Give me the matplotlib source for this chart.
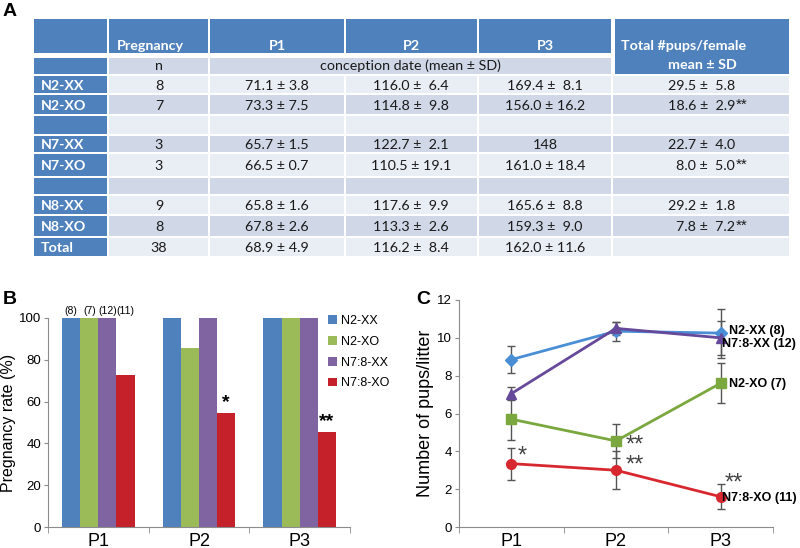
import numpy as np
import matplotlib
matplotlib.use('Agg')
import matplotlib.pyplot as plt
from matplotlib.patches import Rectangle

# --- datos de la tabla (A) ---
row_labels = ['N2-XX', 'N2-XO', '', 'N7-XX', 'N7-XO', '', 'N8-XX', 'N8-XO', 'Total']
n_females = ['8', '7', '', '3', '3', '', '9', '8', '38']
p1_date = ['71.1 ± 3.8', '73.3 ± 7.5', '', '65.7 ± 1.5', '66.5 ± 0.7', '',
           '65.8 ± 1.6', '67.8 ± 2.6', '68.9 ± 4.9']
p2_date = ['116.0 ±  6.4', '114.8 ±  9.8', '', '122.7 ±  2.1', '110.5 ± 19.1', '',
           '117.6 ±  9.9', '113.3 ±  2.6', '116.2 ±  8.4']
p3_date = ['169.4 ±  8.1', '156.0 ± 16.2', '', '148', '161.0 ± 18.4', '',
           '165.6 ±  8.8', '159.3 ±  9.0', '162.0 ± 11.6']
total_pups = ['29.5 ±  5.8', '18.6 ±  2.9', '', '22.7 ±  4.0', '8.0 ±  5.0', '',
              '29.2 ±  1.8', '7.8 ±  7.2', '']
total_sig = ['', '**', '', '', '**', '', '', '**', '']

# --- datos panel B ---
pregnancies = ['P1', 'P2', 'P3']
groups = ['N2-XX', 'N2-XO', 'N7:8-XX', 'N7:8-XO']
group_n = ['(8)', '(7)', '(12)', '(11)']
rate = {
    'N2-XX': [100, 100, 100],
    'N2-XO': [100, 85.7, 100],
    'N7:8-XX': [100, 100, 100],
    'N7:8-XO': [72.7, 54.5, 45.5],
}
rate_sig = ['', '*', '**']

# --- datos panel C ---
pups_mean = {
    'N2-XX': [8.85, 10.35, 10.25],
    'N7:8-XX': [7.05, 10.5, 10.0],
    'N2-XO': [5.7, 4.55, 7.6],
    'N7:8-XO': [3.35, 3.0, 1.6],
}
pups_err = {
    'N2-XX': [0.72, 0.5, 1.3],
    'N7:8-XX': [0.35, 0.35, 0.9],
    'N2-XO': [1.1, 0.9, 1.05],
    'N7:8-XO': [0.85, 1.0, 0.65],
}
line_labels = {'N2-XX': 'N2-XX (8)', 'N7:8-XX': 'N7:8-XX (12)',
               'N2-XO': 'N2-XO (7)', 'N7:8-XO': 'N7:8-XO (11)'}
label_y = {'N2-XX': 10.35, 'N7:8-XX': 9.65, 'N2-XO': 7.56, 'N7:8-XO': 1.55}
label_dx = {'N2-XX': 0.08, 'N7:8-XX': 0.01, 'N2-XO': 0.08, 'N7:8-XO': 0.01}

bar_colors = {'N2-XX': '#4F81BD', 'N2-XO': '#9BBB59',
              'N7:8-XX': '#8064A2', 'N7:8-XO': '#C4212A'}
line_colors = {'N2-XX': '#4A8FD6', 'N7:8-XX': '#66499A',
               'N2-XO': '#7BA83E', 'N7:8-XO': '#D7282F'}
markers = {'N2-XX': 'D', 'N7:8-XX': '^', 'N2-XO': 's', 'N7:8-XO': 'o'}

fig = plt.figure(figsize=(8, 5.48), dpi=100)

# ---------------- Tabla A (coordenadas en pixeles) ----------------
tab = fig.add_axes([0, 0, 1, 1])
tab.set_xlim(0, 800)
tab.set_ylim(548, 0)
tab.axis('off')

BLUE = '#4F81BD'
LIGHT = '#E9EDF4'
DARK = '#D0D8E8'
TXT = '#1a1a1a'
tfont = 'Lato'
FS = 10.3

col_x = [33, 108, 209, 345, 478, 612, 790]
row_y = [74, 94, 115, 135, 153, 177, 195, 215, 237, 257]

def cell(x0, y0, x1, y1, color):
    tab.add_patch(Rectangle((x0 + 1, y0 + 1), x1 - x0 - 2, y1 - y0 - 2,
                            facecolor=color, edgecolor='none'))

# encabezado
for i in range(5):
    cell(col_x[i], 18, col_x[i + 1], 54, BLUE)
cell(col_x[5] + 2, 18, col_x[6], 75, BLUE)
hdr = ['', 'Pregnancy', 'P1', 'P2', 'P3']
hdr_x = [0, 150, 277, 411, 545]
for i in range(1, 5):
    tab.text(hdr_x[i], 46, hdr[i], color='white', fontweight='bold',
             fontsize=FS, family=tfont, ha='center', va='center')
tab.text(684, 46, 'Total #pups/female', color='white', fontweight='bold',
         fontsize=FS, family=tfont, ha='center', va='center')
tab.text(702, 65, 'mean ± SD', color='white', fontweight='bold',
         fontsize=FS, family=tfont, ha='center', va='center')

# fila n / fecha de concepcion
cell(col_x[0], 57, col_x[1], 75, BLUE)
cell(col_x[1], 57, col_x[2], 75, DARK)
cell(col_x[2], 57, col_x[5], 75, DARK)
tab.text(159, 66, 'n', color=TXT, fontsize=FS, family=tfont, ha='center', va='center')
tab.text(410, 66, 'conception date (mean ± SD)', color=TXT, fontsize=FS,
         family=tfont, ha='center', va='center')

for r, lab in enumerate(row_labels):
    y0, y1 = row_y[r], row_y[r + 1]
    if r == 0:
        y0 = 75
    color = LIGHT if r % 2 == 0 else DARK
    cell(col_x[0], y0, col_x[1], y1, BLUE)
    for c in range(1, 6):
        cell(col_x[c], y0, col_x[c + 1], y1, color)
    yc = (y0 + y1) / 2 + 1
    tab.text(41, yc, lab, color='white', fontweight='bold', fontsize=FS,
             family=tfont, ha='left', va='center')
    tab.text(159, yc, n_females[r], color=TXT, fontsize=FS, family=tfont,
             ha='center', va='center')
    tab.text(277, yc, p1_date[r], color=TXT, fontsize=FS, family=tfont,
             ha='center', va='center')
    tab.text(411, yc, p2_date[r], color=TXT, fontsize=FS, family=tfont,
             ha='center', va='center')
    tab.text(545, yc, p3_date[r], color=TXT, fontsize=FS, family=tfont,
             ha='center', va='center')
    tab.text(735, yc, total_pups[r], color=TXT, fontsize=FS, family=tfont,
             ha='right', va='center')
    if total_sig[r]:
        tab.text(736, yc - 1, total_sig[r], color=TXT, fontsize=11,
                 family='Liberation Sans', ha='left', va='center')

# letras de panel
tab.text(3, 12, 'A', fontsize=14, fontweight='bold', family='Liberation Sans', va='center')
tab.text(3, 299, 'B', fontsize=14, fontweight='bold', family='Liberation Sans', va='center')
tab.text(416, 299, 'C', fontsize=14, fontweight='bold', family='Liberation Sans', va='center')

plt.rcParams['font.family'] = 'Liberation Sans'
GREY = '#8c8c8c'

# ---------------- Panel B ----------------
axB = fig.add_axes([48 / 800, 1 - 527 / 548, 302 / 800, 209 / 548])
x = np.arange(len(pregnancies))
w = 0.18
handles = []
for i, g in enumerate(groups):
    b = axB.bar(x + (i - 1.5) * w, rate[g], width=w, color=bar_colors[g], label=g)
    handles.append(b)
    axB.text(x[0] + (i - 1.5) * w, 101, group_n[i], ha='center',
             va='bottom', fontsize=7.5)
for k in range(len(pregnancies)):
    if rate_sig[k]:
        axB.text(x[k] + 1.5 * w, rate['N7:8-XO'][k] + 1, rate_sig[k],
                 ha='center', va='bottom', fontsize=14, fontweight='bold')
axB.set_xlim(-0.5, 2.5)
axB.set_ylim(0, 100)
axB.set_yticks(np.arange(0, 101, 20))
axB.set_xticks(x)
axB.set_xticklabels(pregnancies, fontsize=13)
axB.set_xticks([-0.5, 0.5, 1.5, 2.5], minor=True)
axB.tick_params(axis='x', which='major', length=0, pad=4)
axB.tick_params(axis='x', which='minor', length=4, color=GREY)
axB.tick_params(axis='y', labelsize=9.5, length=3, pad=2, color=GREY)
axB.set_ylabel('Pregnancy rate (%)', fontsize=11.5, labelpad=2)
for s in ['top', 'right']:
    axB.spines[s].set_visible(False)
for s in ['left', 'bottom']:
    axB.spines[s].set_color(GREY)
fig.legend(handles=handles, loc='upper left', bbox_to_anchor=(328 / 800, 1 - 315 / 548),
           frameon=False, fontsize=9, handlelength=0.7, handleheight=0.7,
           handletextpad=0.35, labelspacing=0.7, borderpad=0, borderaxespad=0)

# ---------------- Panel C ----------------
axC = fig.add_axes([459 / 800, 1 - 527 / 548, 314 / 800, 227 / 548])
for g in ['N2-XO', 'N7:8-XO', 'N2-XX', 'N7:8-XX']:
    axC.plot(x, pups_mean[g], color=line_colors[g], lw=2, marker=markers[g],
             markersize=7 if markers[g] != 'D' else 6, zorder=3)
    axC.errorbar(x, pups_mean[g], yerr=pups_err[g], fmt='none', ecolor='#555555',
                 elinewidth=1, capsize=3, capthick=1, zorder=2)
    axC.text(2 + label_dx[g], label_y[g], line_labels[g], fontsize=9, fontweight='bold',
             ha='left', va='center', clip_on=False)
star_col = '#444444'
axC.text(0.1, 3.75, '*', color=star_col, fontsize=17, ha='center', va='center')
axC.text(1.18, 4.3, '**', color=star_col, fontsize=17, ha='center', va='center')
axC.text(1.18, 3.25, '**', color=star_col, fontsize=17, ha='center', va='center')
axC.text(2.13, 2.3, '**', color=star_col, fontsize=17, ha='center', va='center')
axC.set_xlim(-0.5, 2.5)
axC.set_ylim(0, 12)
axC.set_yticks(np.arange(0, 13, 2))
axC.set_xticks(x)
axC.set_xticklabels(pregnancies, fontsize=13)
axC.set_xticks([-0.5, 0.5, 1.5, 2.5], minor=True)
axC.tick_params(axis='x', which='major', length=0, pad=4)
axC.tick_params(axis='x', which='minor', length=4, color=GREY)
axC.tick_params(axis='y', labelsize=9.5, length=3, pad=2, color=GREY)
axC.set_ylabel('Number of pups/litter', fontsize=13, labelpad=2)
for s in ['top', 'right']:
    axC.spines[s].set_visible(False)
for s in ['left', 'bottom']:
    axC.spines[s].set_color(GREY)

fig.savefig('out.png', dpi=100)
